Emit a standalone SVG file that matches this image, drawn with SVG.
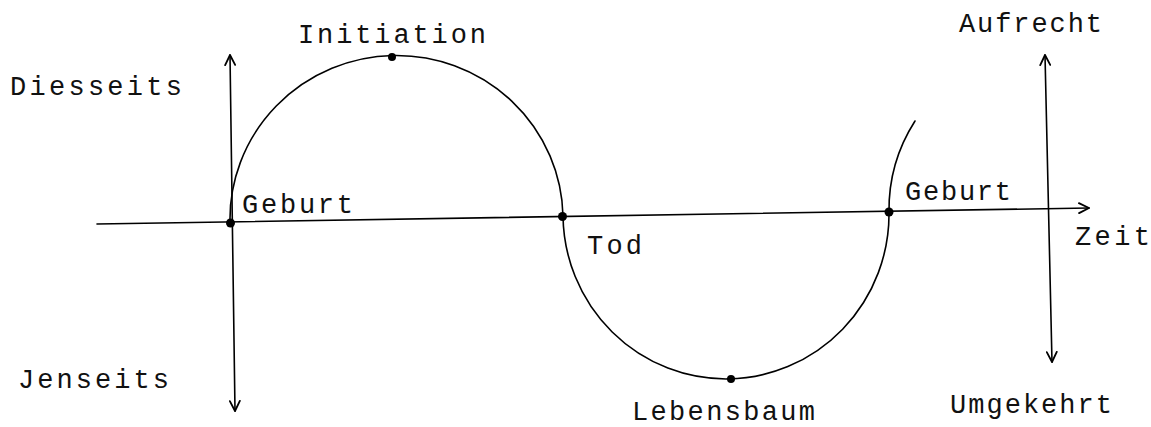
<svg xmlns="http://www.w3.org/2000/svg" width="1151" height="427" viewBox="0 0 1151 427">
<style>
  .ln { fill: none; stroke: #000; stroke-width: 1.6; stroke-linecap: round; }
  .lbl { font-family: "Liberation Mono", "DejaVu Sans Mono", monospace; font-size: 27px; fill: #111; }
  .dot { fill: #000; }
</style>
<defs>
  <marker id="arr" viewBox="0 0 12 12" refX="11" refY="6" markerWidth="12" markerHeight="12" markerUnits="userSpaceOnUse" orient="auto-start-reverse">
    <path d="M1,1 L11,6 L1,11" fill="none" stroke="#000" stroke-width="1.8" stroke-linecap="round" stroke-linejoin="round"/>
  </marker>
</defs>
<rect width="1151" height="427" fill="#fff"/>
<g id="connectors">
  <line class="ln" x1="97" y1="224" x2="1089" y2="208" marker-end="url(#arr)"/>
  <line class="ln" x1="230" y1="55" x2="235" y2="411" marker-start="url(#arr)" marker-end="url(#arr)"/>
  <line class="ln" x1="1045" y1="55" x2="1052" y2="362" marker-start="url(#arr)" marker-end="url(#arr)"/>
  <path class="ln" d="M230,223 A166.5,164 0 0 1 563,216"/>
  <path class="ln" d="M563,216 A163,165 0 0 0 889,212"/>
  <path class="ln" d="M889,212 A165,165 0 0 1 915,121"/>
</g>
<g id="geburt1">
  <circle class="dot" cx="230.5" cy="223" r="4.5"/>
  <text class="lbl" x="242" y="213" textLength="111" lengthAdjust="spacing">Geburt</text>
</g>
<g id="initiation">
  <circle class="dot" cx="392" cy="57" r="4"/>
  <text class="lbl" x="298" y="43" textLength="188" lengthAdjust="spacing">Initiation</text>
</g>
<g id="tod">
  <circle class="dot" cx="562.5" cy="216.5" r="4.5"/>
  <text class="lbl" x="587" y="254" textLength="55" lengthAdjust="spacing">Tod</text>
</g>
<g id="lebensbaum">
  <circle class="dot" cx="731" cy="379" r="4"/>
  <text class="lbl" x="632" y="420" textLength="183" lengthAdjust="spacing">Lebensbaum</text>
</g>
<g id="geburt2">
  <circle class="dot" cx="889" cy="212" r="4.5"/>
  <text class="lbl" x="905" y="200" textLength="106" lengthAdjust="spacing">Geburt</text>
</g>
<g id="diesseits">
  <text class="lbl" x="10" y="95" textLength="172" lengthAdjust="spacing">Diesseits</text>
</g>
<g id="jenseits">
  <text class="lbl" x="18" y="388" textLength="151" lengthAdjust="spacing">Jenseits</text>
</g>
<g id="aufrecht">
  <text class="lbl" x="959" y="32" textLength="143" lengthAdjust="spacing">Aufrecht</text>
</g>
<g id="umgekehrt">
  <text class="lbl" x="950" y="413" textLength="162" lengthAdjust="spacing">Umgekehrt</text>
</g>
<g id="zeit">
  <text class="lbl" x="1075" y="245" textLength="75" lengthAdjust="spacing">Zeit</text>
</g>
</svg>
